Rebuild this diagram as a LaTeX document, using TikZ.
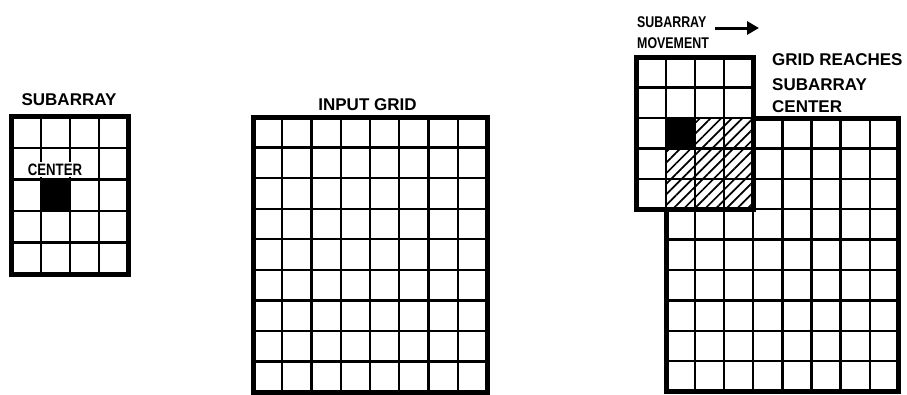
\documentclass[tikz,border=0pt]{standalone}
\usepackage{fontspec}
\setmainfont{Liberation Sans}
\newfontfamily\narrowsans[FakeStretch=0.8]{Liberation Sans}
\usetikzlibrary{arrows.meta,patterns.meta}

\begin{document}
\begin{tikzpicture}[x=1pt,y=-1pt,
      lab/.style={font=\fontsize{17}{19}\selectfont\bfseries,inner sep=0pt},
      smalllab/.style={font=\narrowsans\fontsize{15.5}{17}\selectfont\bfseries,inner sep=0pt},
      ctrlab/.style={font=\narrowsans\fontsize{16.5}{18}\selectfont\bfseries,inner sep=1.5pt,fill=white},
      cell/.style={line width=2.3pt},
      frame/.style={line width=5pt},
      hatch/.style={pattern={Lines[angle=45,distance=7.5pt,line width=1.7pt]}},
      a/.style={-{Triangle[length=12pt,width=13pt]},line width=3pt}]
  \useasboundingbox (0,0) rectangle (907,394);
  % lone subarray, 4 x 5 cells
  \fill (40.8,178.1) rectangle (69.9,209.5);
  \foreach \i in {1,2,3}
    \draw[cell] ({11.7+29.1*\i},116.7) -- ({11.7+29.1*\i},274);
  \foreach \j in {1,...,4}
    \draw[cell] (11.7,{116.7+31.46*\j}) -- (128,{116.7+31.46*\j});
  \draw[frame] (11.7,116.7) rectangle (128,274);
  \node[lab,anchor=base] (subtitle) at (69,105) {SUBARRAY};
  \node[ctrlab,anchor=base] (center) at (55,175) {CENTER};
  % input grid, 8 x 9 cells
  \foreach \i in {1,...,7}
    \draw[cell] ({253+29.25*\i},117) -- ({253+29.25*\i},392);
  \foreach \j in {1,...,8}
    \draw[cell] (253,{117+30.56*\j}) -- (487,{117+30.56*\j});
  \draw[frame] (253,117) rectangle (487,392);
  \node[lab,anchor=base] (gridtitle) at (367.5,110) {INPUT GRID};
  % grid with subarray moved onto it
  \foreach \i in {1,...,7}
    \draw[cell] ({666+29.1*\i},118) -- ({666+29.1*\i},391.6);
  \foreach \j in {1,...,8}
    \draw[cell] (666,{118+30.4*\j}) -- (898.8,{118+30.4*\j});
  \draw[frame] (666,118) rectangle (898.8,391.6);
  \fill[white] (636.9,57.2) rectangle (753.3,209.2);
  \fill[hatch] (666,118) rectangle (753.3,209.2);
  \fill (666,118) rectangle (695.1,148.4);
  \foreach \i in {1,2,3}
    \draw[cell] ({636.9+29.1*\i},57.2) -- ({636.9+29.1*\i},209.2);
  \foreach \j in {1,...,4}
    \draw[cell] (636.9,{57.2+30.4*\j}) -- (753.3,{57.2+30.4*\j});
  \draw[frame] (636.9,57.2) rectangle (753.3,209.2);
  \node[smalllab,anchor=base west] (move1) at (637,27) {SUBARRAY};
  \node[smalllab,anchor=base west] (move2) at (637,48) {MOVEMENT};
  \coordinate (mvfrom) at (715,28);
  \coordinate (mvto) at (759,28);
  \draw[a] (mvfrom) -- (mvto);
  \node[lab,anchor=base west] (reach1) at (772,65) {GRID REACHES};
  \node[lab,anchor=base west] (reach2) at (772,90) {SUBARRAY};
  \node[lab,anchor=base west] (reach3) at (772,112) {CENTER};
\end{tikzpicture}
\end{document}
